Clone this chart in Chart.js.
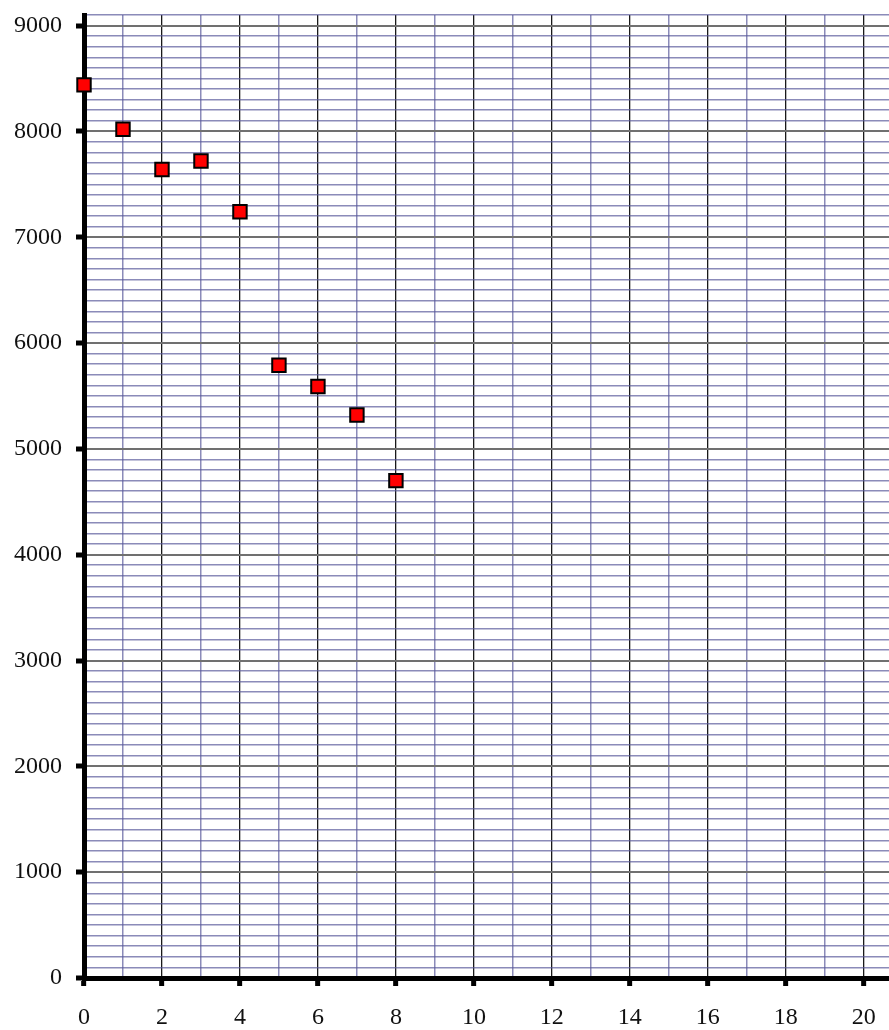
<!DOCTYPE html>
<html>
<head>
<meta charset="utf-8">
<script src="https://cdn.jsdelivr.net/npm/chart.js@4.4.1/dist/chart.umd.min.js"></script>
<style>
  html, body { margin: 0; padding: 0; background: #fff; overflow: hidden; }
  /* the plot runs off the right edge, so the canvas is a bit wider than the page */
  #wrap { width: 889px; height: 1030px; overflow: hidden; }
</style>
</head>
<body>
<div id="wrap"><canvas id="myChart" width="901" height="1030"></canvas></div>
<script>
// measured points
const xValues = [0, 1, 2, 3, 4, 5, 6, 7, 8];
const yValues = [8440, 8020, 7640, 7720, 7240, 5790, 5590, 5320, 4700];

// axis ranges and label steps
const xMin = 0, xMax = 20.66, xStep = 1, xLabelEvery = 2;
const yMin = 0, yMax = 9100, yStep = 100, yLabelEvery = 1000;

const points = xValues.map((x, i) => ({ x: x, y: yValues[i] }));

const labelFont = { family: "'Liberation Serif', 'DejaVu Serif', serif", size: 24 };
const minorColor = 'rgba(90,90,155,0.7)';

const isMajor = (v, every) => Math.abs(v / every - Math.round(v / every)) < 1e-6;

const ctx = document.getElementById('myChart');
new Chart(ctx, {
  type: 'scatter',
  data: {
    datasets: [{
      data: points,
      pointStyle: 'rect',
      pointRadius: 9.5,
      pointHoverRadius: 9.5,
      backgroundColor: '#ff0000',
      borderColor: '#000000',
      borderWidth: 2,
      clip: false
    }]
  },
  options: {
    responsive: false,
    animation: false,
    layout: { padding: { top: 15, right: 0, left: 0, bottom: 0 } },
    plugins: { legend: { display: false }, tooltip: { enabled: false } },
    scales: {
      x: {
        type: 'linear',
        min: xMin,
        max: xMax,
        afterFit: (scale) => { scale.height = 52; },
        border: { display: true, color: '#000', width: 5 },
        grid: {
          color: (c) => isMajor(c.tick.value, xLabelEvery) ? '#1a1a1a' : minorColor,
          lineWidth: (c) => isMajor(c.tick.value, xLabelEvery) ? 1.3 : 1.5,
          tickLength: 8,
          tickColor: (c) => isMajor(c.tick.value, xLabelEvery) ? '#000' : 'rgba(0,0,0,0)',
          tickWidth: (c) => isMajor(c.tick.value, xLabelEvery) ? 5 : 0
        },
        ticks: {
          stepSize: xStep,
          autoSkip: false,
          includeBounds: false,
          maxRotation: 0,
          padding: 17,
          color: '#111',
          font: labelFont,
          callback: (v) => isMajor(v, xLabelEvery) ? String(v) : ''
        }
      },
      y: {
        type: 'linear',
        min: yMin,
        max: yMax,
        afterFit: (scale) => {
          scale.width = 84;
          scale.paddingTop = 0;
        },
        border: { display: true, color: '#000', width: 5 },
        grid: {
          color: (c) => isMajor(c.tick.value, yLabelEvery) ? '#707070' : minorColor,
          lineWidth: (c) => isMajor(c.tick.value, yLabelEvery) ? 2 : 1.6,
          tickLength: 8,
          tickColor: (c) => isMajor(c.tick.value, yLabelEvery) ? '#000' : 'rgba(0,0,0,0)',
          tickWidth: (c) => isMajor(c.tick.value, yLabelEvery) ? 5 : 0
        },
        ticks: {
          stepSize: yStep,
          autoSkip: false,
          padding: 14,
          color: '#111',
          font: labelFont,
          callback: (v) => isMajor(v, yLabelEvery) ? String(v) : ''
        }
      }
    }
  }
});
</script>
</body>
</html>
